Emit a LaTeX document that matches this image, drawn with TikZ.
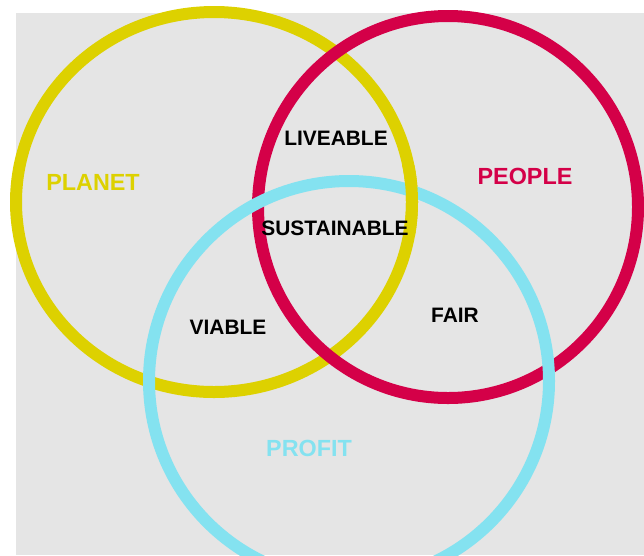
\documentclass[tikz,border=0pt]{standalone}
\usepackage{fontspec}
\setmainfont{Liberation Sans}
\usepackage{xcolor}
\usepackage{tikz}
\usetikzlibrary{shapes}

\definecolor{planetyellow}{RGB}{221,209,0}
\definecolor{peoplered}{RGB}{212,0,72}
\definecolor{profitcyan}{RGB}{132,226,240}
\definecolor{paper}{RGB}{229,229,229}

\begin{document}
\begin{tikzpicture}[x=0.02cm, y=-0.02cm,
        ring/.style={line width=0.24cm},
        area/.style={font=\fontsize{11.9}{13}\selectfont\bfseries, text=black},
        group/.style={font=\fontsize{13.3}{15}\selectfont\bfseries}]
        \useasboundingbox (0, 0) rectangle (644, 555);
        \fill[paper] (16, 13) rectangle (644, 555);

        \begin{scope}
            \clip (0, 0) rectangle (644, 555);
            \draw[ring, planetyellow] (214, 202) ellipse (198 and 190);
            \draw[ring, peoplered] (448, 207) ellipse (190 and 191);
            \draw[ring, profitcyan] (349, 381) ellipse (200 and 200);
        \end{scope}
        % yellow runs over cyan on the right crossing
        \begin{scope}
            \clip (395, 165) rectangle (432, 235);
            \draw[ring, planetyellow] (214, 202) ellipse (198 and 190);
        \end{scope}

        \node[group, text=planetyellow] (planet) at (93, 182) {PLANET};
        \node[group, text=peoplered] (people) at (525, 176) {PEOPLE};
        \node[group, text=profitcyan] (profit) at (309, 448) {PROFIT};

        \node[area] (liveable) at (336, 138) {LIVEABLE};
        \node[area] (sustainable) at (335, 228) {SUSTAINABLE};
        \node[area] (viable) at (228, 327) {VIABLE};
        \node[area] (fair) at (455, 315) {FAIR};
    \end{tikzpicture}
\end{document}
